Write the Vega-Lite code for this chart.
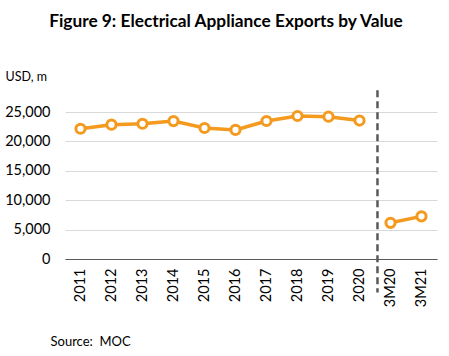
{
  "$schema": "https://vega.github.io/schema/vega-lite/v6.json",
  "autosize": "none",
  "width": 372,
  "height": 147,
  "padding": {"left": 65, "top": 112, "right": 12, "bottom": 97},
  "background": "white",
  "config": {
    "font": "Lato",
    "view": {"stroke": null},
    "title": {"font": "Lato", "fontSize": 17.3, "fontWeight": "bold", "color": "#000000"}
  },
  "title": {"text": "Figure 9: Electrical Appliance Exports by Value", "anchor": "middle", "offset": 40, "dx": -25},
  "data": {
    "values": [
      {"period": "2011", "value": 22150, "seg": "annual"},
      {"period": "2012", "value": 22850, "seg": "annual"},
      {"period": "2013", "value": 23000, "seg": "annual"},
      {"period": "2014", "value": 23450, "seg": "annual"},
      {"period": "2015", "value": 22280, "seg": "annual"},
      {"period": "2016", "value": 21950, "seg": "annual"},
      {"period": "2017", "value": 23470, "seg": "annual"},
      {"period": "2018", "value": 24320, "seg": "annual"},
      {"period": "2019", "value": 24200, "seg": "annual"},
      {"period": "2020", "value": 23550, "seg": "annual"},
      {"period": "3M20", "value": 6150, "seg": "quarter"},
      {"period": "3M21", "value": 7250, "seg": "quarter"}
    ]
  },
  "encoding": {
    "x": {
      "field": "period", "type": "nominal", "sort": null,
      "scale": {"paddingInner": 0, "paddingOuter": 0},
      "axis": {
        "labelAngle": -90, "labelFont": "Lato", "labelFontSize": 14.5, "labelColor": "#000000",
        "labelPadding": 9, "ticks": false, "domainColor": "#595959", "domainWidth": 1,
        "title": "Source:\u00a0\u00a0MOC", "titleFont": "Lato", "titleFontSize": 13, "titleFontWeight": "normal",
        "titleColor": "#000000", "titleAnchor": "start", "titleAlign": "left", "titleBaseline": "middle",
        "titleX": -15, "titleY": 82
      }
    },
    "y": {
      "field": "value", "type": "quantitative",
      "scale": {"domain": [0, 25000], "nice": false},
      "axis": {
        "values": [0, 5000, 10000, 15000, 20000, 25000], "format": ",d", "labelOverlap": false,
        "labelFont": "Lato", "labelFontSize": 14.5, "labelColor": "#000000", "labelPadding": 15,
        "ticks": false, "domain": false, "grid": true, "gridColor": "#d9d9d9", "gridWidth": 1,
        "title": "USD, m", "titleAngle": 0, "titleFont": "Lato", "titleFontSize": 12.5,
        "titleFontWeight": "normal", "titleColor": "#000000", "titleAlign": "left",
        "titleBaseline": "middle", "titleX": -60, "titleY": -36
      }
    }
  },
  "layer": [
    {
      "mark": {"type": "line", "color": "#F39A1F", "strokeWidth": 3.5},
      "encoding": {"detail": {"field": "seg"}}
    },
    {
      "mark": {"type": "point", "filled": true, "fill": "white", "stroke": "#F39A1F", "strokeWidth": 3, "size": 85, "opacity": 1}
    },
    {
      "data": {"values": [{"p": "2020", "top": 28700, "bottom": -5700}]},
      "mark": {"type": "rule", "color": "#595959", "strokeWidth": 2.5, "strokeDash": [7, 4], "clip": false},
      "encoding": {
        "x": {"field": "p", "type": "nominal", "bandPosition": 1.08},
        "y": {"field": "top", "type": "quantitative"},
        "y2": {"field": "bottom"}
      }
    }
  ]
}
